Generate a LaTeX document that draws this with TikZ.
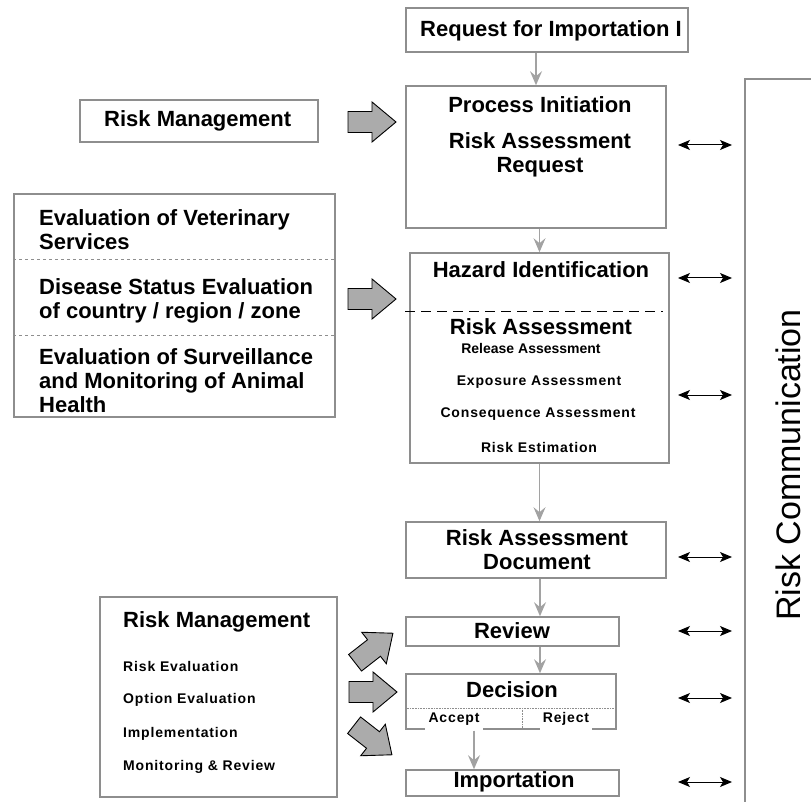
\documentclass[tikz,border=0pt]{standalone}
\usepackage{fontspec}
\setmainfont{Liberation Sans}
\newfontfamily\spacedfont[LetterSpace=6]{Liberation Sans}
\usepackage{tikz}
\usetikzlibrary{arrows.meta, positioning, calc}
\definecolor{BoxGray}{HTML}{8E8E8E}
\definecolor{FlowGray}{HTML}{A2A2A2}
\definecolor{BlockGray}{HTML}{ABABAB}
\newcommand{\headfont}{\fontsize{22}{24}\selectfont\bfseries}
\newcommand{\subfont}{\spacedfont\fontsize{14}{16}\selectfont\bfseries}
\newcommand{\plainsubfont}{\fontsize{14}{16}\selectfont\bfseries}

\tikzset{
    stagebox/.style={draw=BoxGray, line width=1.6pt, inner sep=0pt},
    heading/.style={font=\headfont, inner sep=0pt, align=center},
    substep/.style={font=\subfont, inner sep=0pt},
    flow/.style={draw=FlowGray, line width=1.1pt,
                 -{Stealth[length=14pt, width=12pt, inset=5pt, fill=FlowGray]}},
    talk/.style={line width=1pt,
                 {Stealth[length=12pt, width=10pt, inset=3pt]}-{Stealth[length=12pt, width=10pt, inset=3pt]}},
    blockarrow/.pic={
        \draw[fill=BlockGray, draw=black, line width=0.9pt]
            (-24,-10.5) -- (0,-10.5) -- (0,-20) -- (24,0) -- (0,20)
            -- (0,10.5) -- (-24,10.5) -- cycle;
    }
}

\begin{document}
\begin{tikzpicture}[x=1pt, y=-1pt]
    \useasboundingbox (0,0) rectangle (811,802);

    % main column
    \node[stagebox, minimum width=282pt, minimum height=44pt] (request) at (547,30) {};
    \node[heading] (requesttext) at (551,31) {Request for Importation I};

    \node[stagebox, minimum width=260pt, minimum height=142pt] (process) at (536,157) {};
    \node[heading] (processtitle) at (540,105) {Process Initiation};
    \node[heading] (processreq) at (540,155) {Risk Assessment\\Request};

    \node[stagebox, minimum width=259pt, minimum height=210pt] (hazard) at (539.5,358) {};
    \node[heading] (hazardtitle) at (541,270) {Hazard Identification};
    \draw[dash pattern=on 10pt off 6pt, line width=1pt]
        ([xshift=-4pt]hazard.west |- 0,311) -- ([xshift=-7pt]hazard.east |- 0,311);
    \node[heading] (assesstitle) at (541,327) {Risk Assessment};
    \node[substep, font=\plainsubfont] (release) at (531,348) {Release Assessment};
    \node[substep] (exposure) at (539,382) {Exposure Assessment};
    \node[substep] (consequence) at (538,414) {Consequence Assessment};
    \node[substep] (estimation) at (539,447) {Risk Estimation};

    \node[stagebox, minimum width=260pt, minimum height=56pt] (rad) at (536,550) {};
    \node[heading] (radtext) at (537,550) {Risk Assessment\\Document};

    \node[stagebox, minimum width=213pt, minimum height=29pt] (review) at (512.5,631.5) {};
    \node[heading] (reviewtext) at (512,631) {Review};

    \node[stagebox, minimum width=210pt, minimum height=55pt] (decision) at (511,701.5) {};
    \node[heading] (decisiontext) at (512,690) {Decision};
    \node[substep, fill=white, minimum width=58pt, minimum height=23pt] (accept) at (454,719) {Accept};
    \node[substep, fill=white, minimum width=52pt, minimum height=23pt] (reject) at (566,719) {Reject};
    \draw[BoxGray, line width=0.6pt, densely dotted]
        (decision.west |- 0,708) -- (decision.east |- 0,708);
    \draw[BoxGray, line width=0.6pt, densely dotted] (522,708) -- (522,0 |- decision.south);

    \node[stagebox, minimum width=213pt, minimum height=26pt] (importation) at (512.5,783) {};
    \node[heading] (importtext) at (514,782) {Importation};

    % left side
    \node[stagebox, minimum width=238pt, minimum height=42pt] (mgmttop) at (199,121) {};
    \node[heading, anchor=west] (mgmttoptext) at (104,121) {Risk Management};

    \node[stagebox, minimum width=321pt, minimum height=223pt] (evalbox) at (174.5,305.5) {};
    \draw[BoxGray, dashed, line width=0.7pt] (evalbox.west |- 0,259) -- (evalbox.east |- 0,259);
    \draw[BoxGray, dashed, line width=0.7pt] (evalbox.west |- 0,335) -- (evalbox.east |- 0,335);
    \node[heading, anchor=west, align=left] (vetserv) at (39,229.5) {Evaluation of Veterinary\\Services};
    \node[heading, anchor=west, align=left] (status) at (39,301) {Disease Status Evaluation\\of country / region / zone};
    \node[heading, anchor=west, align=left] (surveil) at (39,381) {Evaluation of Surveillance\\and Monitoring of Animal\\Health};

    \node[stagebox, minimum width=237pt, minimum height=200pt] (mgmtlow) at (218.5,697) {};
    \node[heading, anchor=west] (mgmtlowtext) at (123,622) {Risk Management};
    \node[substep, anchor=west] (riskeval) at (123,666) {Risk Evaluation};
    \node[substep, anchor=west] (optioneval) at (123,700) {Option Evaluation};
    \node[substep, anchor=west] (implement) at (123,734) {Implementation};
    \node[substep, anchor=west] (monitor) at (123,767) {Monitoring \& Review};

    % block arrows
    \pic at (372,122) {blockarrow};
    \pic at (372,299) {blockarrow};
    \pic[rotate=38] at (374,648) {blockarrow};
    \pic at (373,692) {blockarrow};
    \pic[rotate=-38] at (373,740) {blockarrow};

    % risk communication
    \begin{scope}
        \clip (0,0) rectangle (811,802);
        \node[stagebox, minimum width=100pt, minimum height=760pt, anchor=north west] (riskcomm) at (744,78) {};
    \end{scope}
    \node[rotate=90, font=\fontsize{34}{36}\selectfont, inner sep=0pt] (rctext) at (788,465) {Risk Communication};

    % flow between stages
    \draw[flow] (process.north |- request.south) -- (process.north);
    \draw[flow] (hazard.north |- process.south) -- (hazard.north);
    \draw[flow] (hazard.south) -- (hazard.south |- rad.north);
    \draw[flow] ([xshift=4pt]rad.south) -- ([xshift=4pt]rad.south |- review.north);
    \draw[flow] ([xshift=4pt]rad.south |- review.south) -- ([xshift=4pt]rad.south |- decision.north);
    \draw[flow] ([xshift=20pt]accept.south) -- ([xshift=20pt]accept.south |- importation.north);

    % links to risk communication
    \foreach \y in {145,278,395,557,631,698,782}
        \draw[talk] (678,\y) -- ([xshift=-12pt]riskcomm.west |- 0,\y);
\end{tikzpicture}
\end{document}
